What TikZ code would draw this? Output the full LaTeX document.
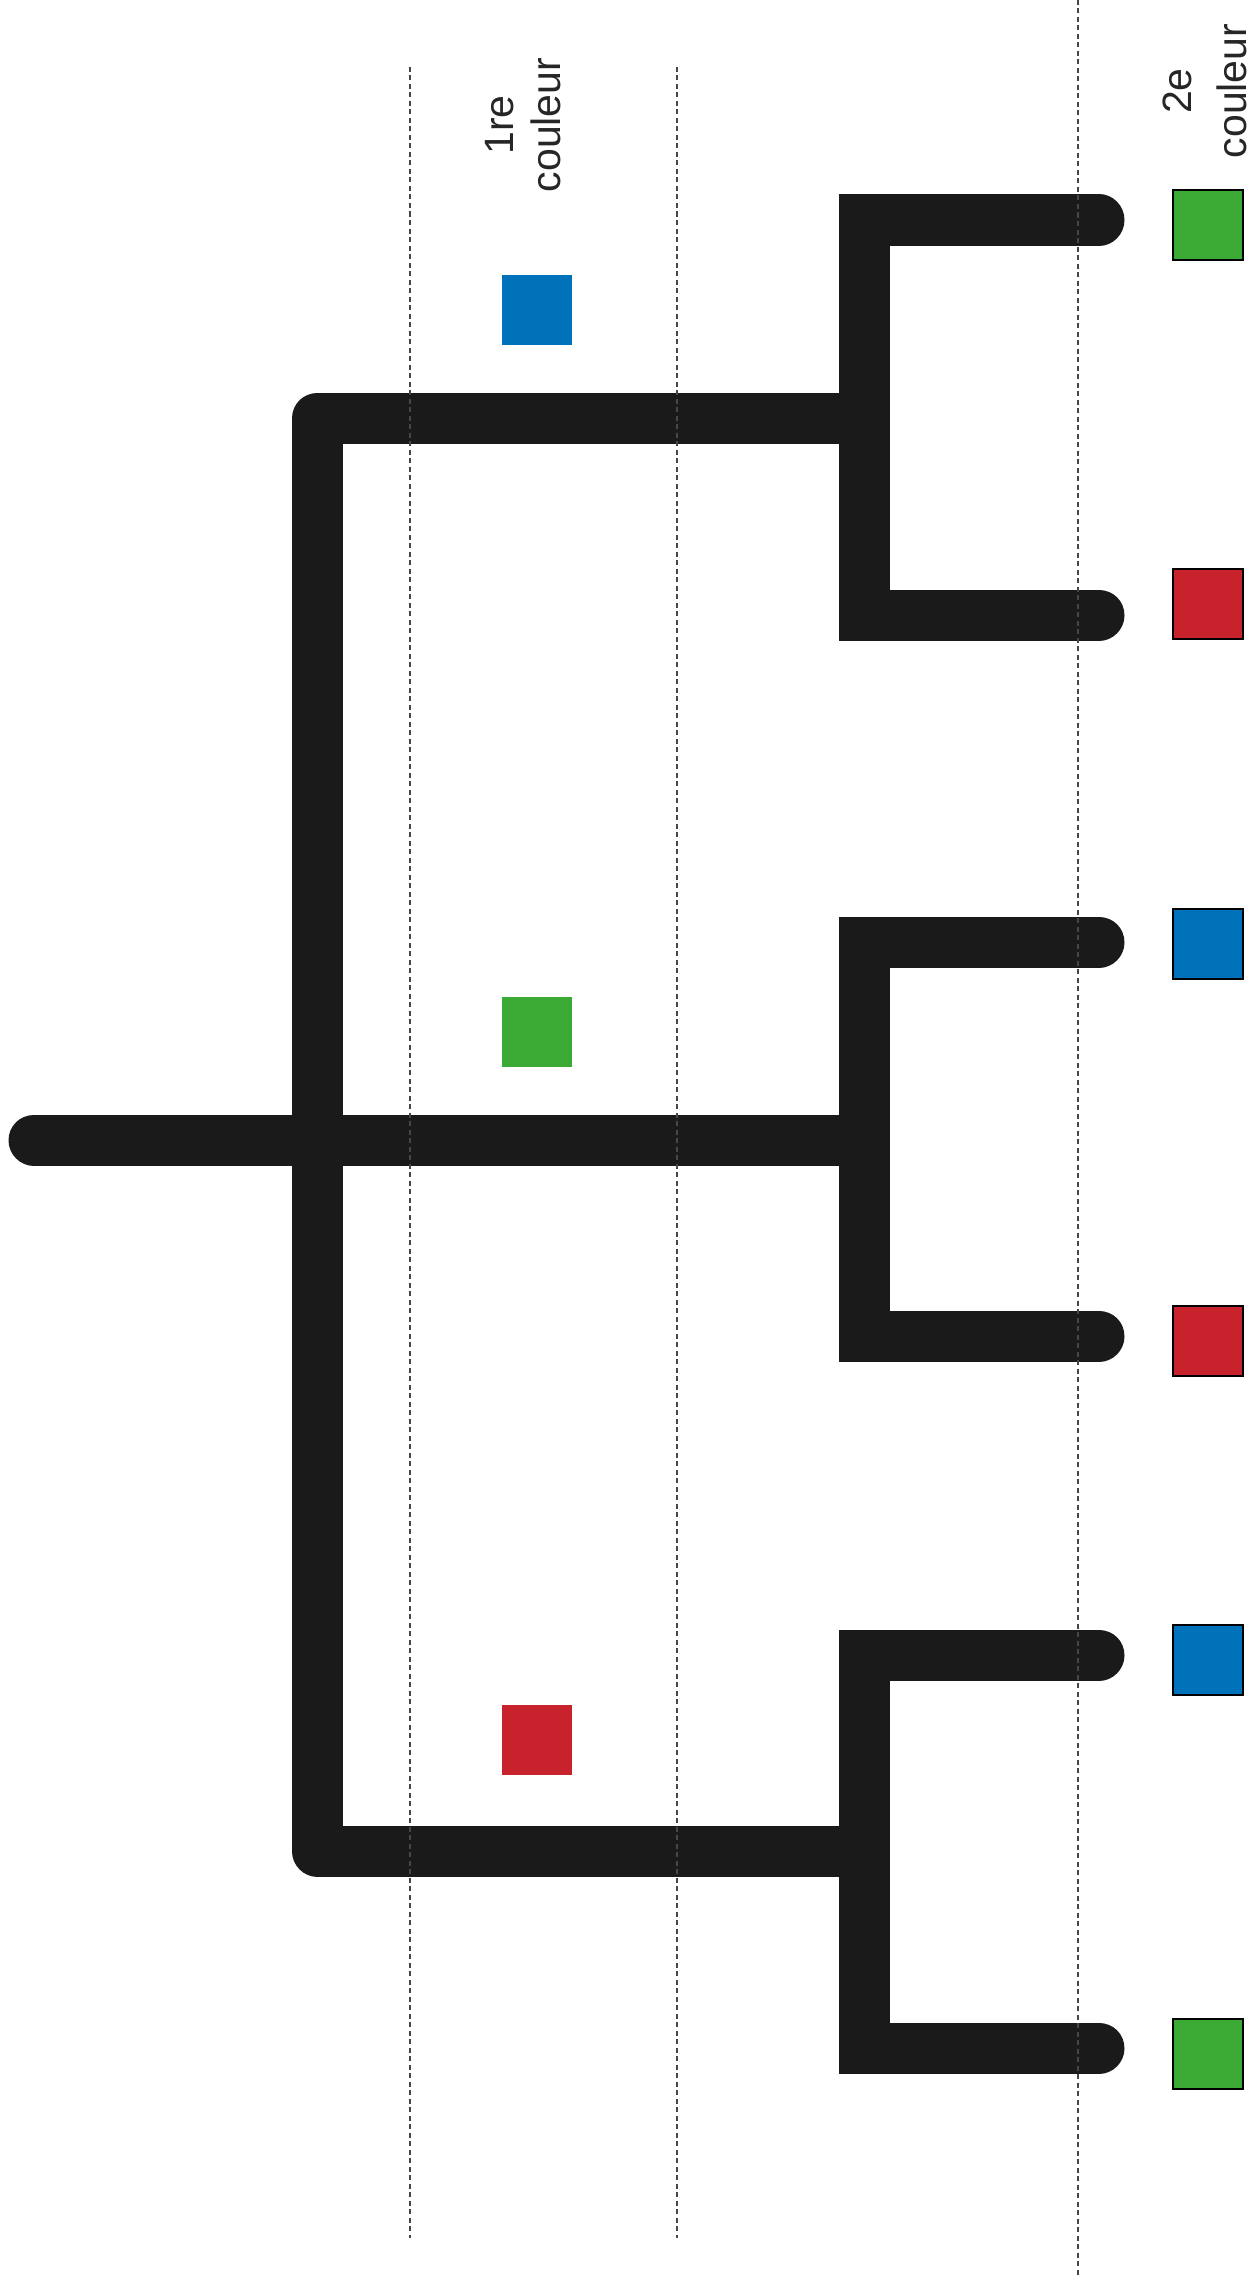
\documentclass[tikz,border=0pt]{standalone}
\usepackage{fontspec}
\setmainfont{Liberation Sans}
\definecolor{cblue}{RGB}{0,114,185}
\definecolor{cgreen}{RGB}{58,170,53}
\definecolor{cred}{RGB}{200,34,44}
\definecolor{barblack}{RGB}{26,26,26}
\tikzset{
  bar/.style={line width=51pt, draw=barblack},
  fork/.style={bar, line cap=round, line join=miter},
  bracket/.style={bar, line cap=butt, line join=round},
  rootbar/.style={bar, line cap=round},
  guide/.style={draw=black!72, line width=1.8pt, dash pattern=on 5pt off 3.5pt},
  leafsq/.style={draw=black, line width=2pt, minimum size=70pt, inner sep=0pt},
  firstsq/.style={draw=none, minimum size=70pt, inner sep=0pt},
  lbl/.style={rotate=90, align=center, inner sep=0pt, text=black!85},
}
\begin{document}
\begin{tikzpicture}[x=1pt,y=-1pt]
\useasboundingbox (0,0) rectangle (1251,2277);
% junction coordinates
\coordinate (root) at (34,1140);
\coordinate (rj) at (864,1140);
\coordinate (mt) at (317.5,418);
\coordinate (mb) at (317.5,1851);
\coordinate (b1) at (864,418);
\coordinate (b3) at (864,1851);
\coordinate (b1t) at (864,220);
\coordinate (b1b) at (864,615);
\coordinate (l1) at (1099,220);
\coordinate (l2) at (1099,615);
\coordinate (b2t) at (864,942);
\coordinate (b2b) at (864,1336);
\coordinate (l3) at (1099,942);
\coordinate (l4) at (1099,1336);
\coordinate (b3t) at (864,1655);
\coordinate (b3b) at (864,2048);
\coordinate (l5) at (1099,1655);
\coordinate (l6) at (1099,2048);
% tree
\draw[rootbar] (root) -- (rj);
\draw[bracket] (b1) -- (mt) -- (mb) -- (b3);
\draw[fork] (l1) -- (b1t) -- (b1b) -- (l2);
\draw[fork] (l3) -- (b2t) -- (b2b) -- (l4);
\draw[fork] (l5) -- (b3t) -- (b3b) -- (l6);
% guides
\coordinate (g1t) at (410,67);
\coordinate (g1b) at (410,2238);
\coordinate (g2t) at (677,67);
\coordinate (g2b) at (677,2238);
\coordinate (g3t) at (1078,0);
\coordinate (g3b) at (1078,2277);
\draw[guide] (g1t) -- (g1b);
\draw[guide] (g2t) -- (g2b);
\draw[guide] (g3t) -- (g3b);
% first colour squares
\node[firstsq, fill=cblue] (f1) at (537,310) {};
\node[firstsq, fill=cgreen] (f2) at (537,1032) {};
\node[firstsq, fill=cred] (f3) at (537,1740) {};
% second colour squares
\node[leafsq, fill=cgreen] (s1) at (1208,225) {};
\node[leafsq, fill=cred] (s2) at (1208,604) {};
\node[leafsq, fill=cblue] (s3) at (1208,944) {};
\node[leafsq, fill=cred] (s4) at (1208,1341) {};
\node[leafsq, fill=cblue] (s5) at (1208,1660) {};
\node[leafsq, fill=cgreen] (s6) at (1208,2054) {};
% labels
\node[lbl, font=\fontsize{41}{47}\selectfont] (t1) at (523,125) {1re\\couleur};
\node[lbl, font=\fontsize{41}{55}\selectfont] (t2) at (1204.5,91) {2e\\couleur};
\end{tikzpicture}
\end{document}
